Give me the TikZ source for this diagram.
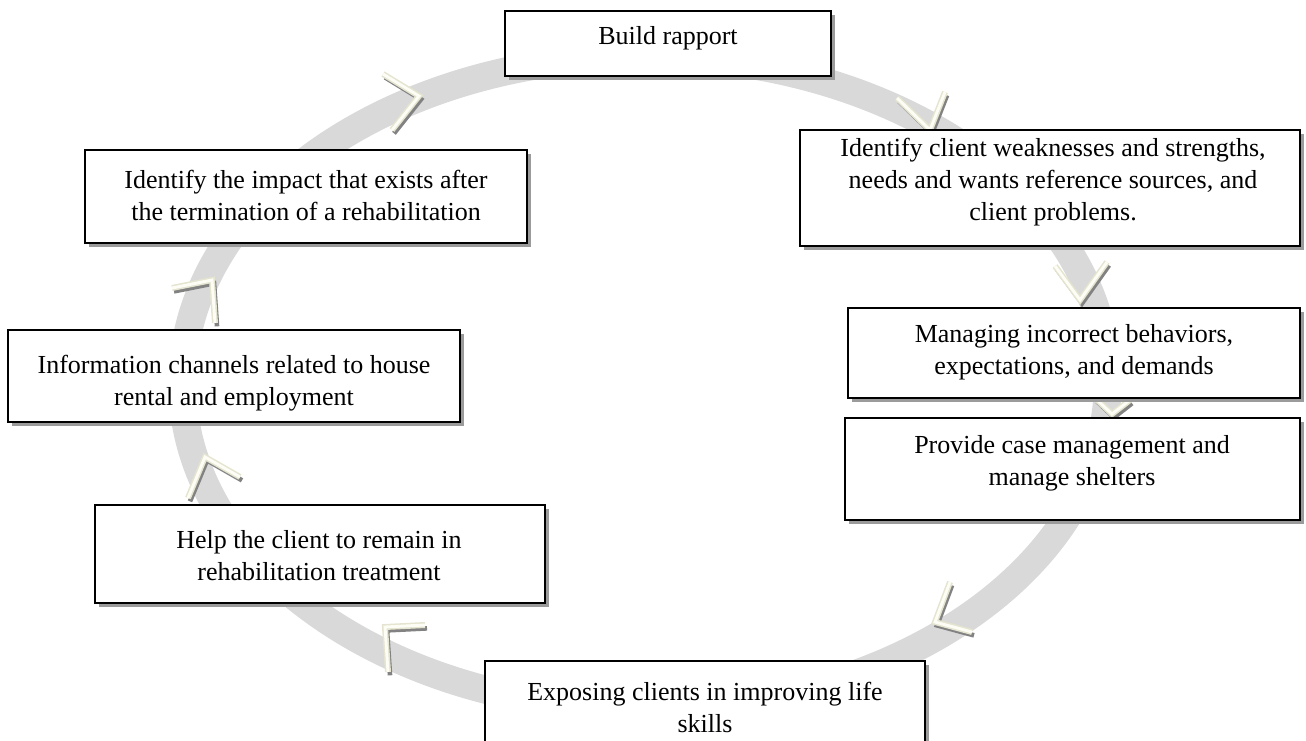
\documentclass[tikz,border=0pt]{standalone}
\usepackage{fontspec}
\setmainfont{Liberation Serif}
\usetikzlibrary{shadows}
\definecolor{ringgray}{RGB}{217,217,217}
\definecolor{shadgray}{RGB}{155,155,155}
\definecolor{chevout}{RGB}{228,228,208}
\definecolor{chevin}{RGB}{253,253,246}
\definecolor{chevsh}{RGB}{130,130,130}
\tikzset{
  box/.style 2 args={draw=black, line width=1.3pt, fill=white, rectangle, inner sep=0pt,
    minimum width=#1*0.75pt, minimum height=#2*0.75pt,
    drop shadow={shadow xshift=3pt, shadow yshift=-3pt, fill=shadgray, opacity=1}},
  lbl/.style={font=\fontsize{19.5}{24}\selectfont, align=center, inner sep=0pt, anchor=base},
  chev/.style={draw=chevout, line width=4.5pt, line join=miter, line cap=butt,
    preaction={draw=chevsh, line width=3.5pt, transform canvas={shift={(1.5pt,-2.5pt)}}},
    postaction={draw=chevin, line width=2.2pt}},
}
\begin{document}
\begin{tikzpicture}[x=0.75pt,y=-0.75pt]
\useasboundingbox (0,0) rectangle (1306,740);
% ring
\draw[ringgray, line width=21pt] (645,383) ellipse [x radius=347pt, y radius=245pt];
% chevrons
\draw[chev] (383,74) -- (419,96) -- (392,130);
\draw[chev] (897,98) -- (930,130) -- (945,92);
\draw[chev] (1055,266) -- (1080,300) -- (1107,262);
\draw[chev] (1095,398) -- (1112,414) -- (1130,400);
\draw[chev] (950,582) -- (935,622) -- (972,632);
\draw[chev] (425,625) -- (385,627) -- (388,672);
\draw[chev] (188,498) -- (205,457) -- (240,477);
\draw[chev] (172,288) -- (212,280) -- (215,323);
% boxes
\node[box={326}{65}] (b1) at (668,43.5) {};
\node[box={500}{116}] (b2) at (1050,188) {};
\node[box={452}{90}] (b3) at (1074,353) {};
\node[box={455}{102}] (b4) at (1072.5,469) {};
\node[box={440}{100}] (b5) at (705,711) {};
\node[box={450}{98}] (b6) at (320,554) {};
\node[box={452}{92}] (b7) at (234,376) {};
\node[box={442}{93}] (b8) at (306,196.5) {};
% texts (anchor = baseline of last line)
\node[lbl] (t1) at (668,44) {Build rapport};
\node[lbl] (t2) at (1053,220) {Identify client weaknesses and strengths,\\needs and wants reference sources, and\\client problems.};
\node[lbl] (t3) at (1074,374) {Managing incorrect behaviors,\\expectations, and demands};
\node[lbl] (t4) at (1072,485) {Provide case management and\\manage shelters};
\node[lbl] (t5) at (705,732) {Exposing clients in improving life\\skills};
\node[lbl] (t6) at (319,580) {Help the client to remain in\\rehabilitation treatment};
\node[lbl] (t7) at (234,405) {Information channels related to house\\rental and employment};
\node[lbl] (t8) at (306,220) {Identify the impact that exists after\\the termination of a rehabilitation};
\end{tikzpicture}
\end{document}
